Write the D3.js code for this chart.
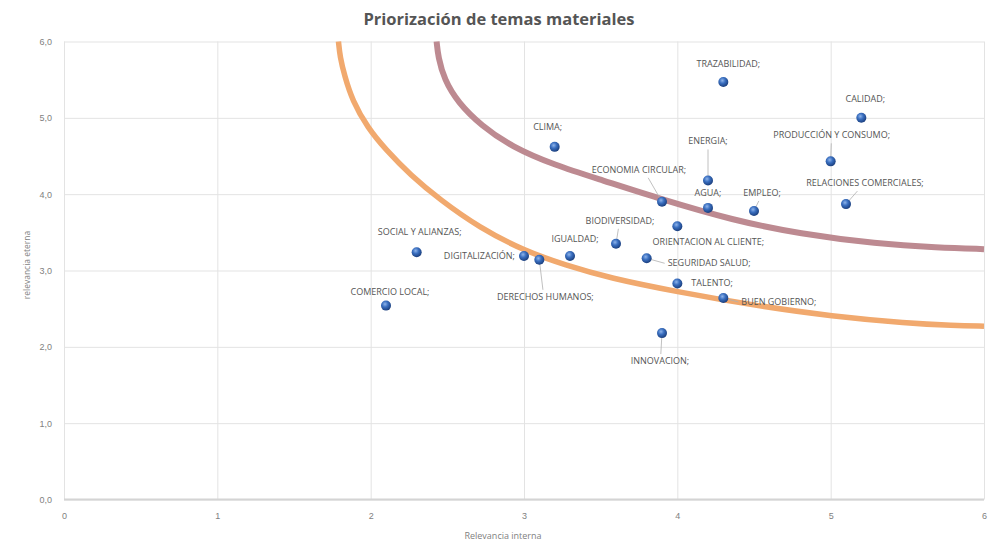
<!DOCTYPE html>
<html>
<head>
<meta charset="utf-8">
<script src="https://cdn.jsdelivr.net/npm/d3@7"></script>
<style>
  body { margin: 0; background: #fff; }
  svg { font-family: "Open Sans", sans-serif; }
</style>
</head>
<body>
<svg id="chart"></svg>
<script>
var w = 997;
var h = 548;

// data
var topics = ['TRAZABILIDAD;', 'CALIDAD;', 'CLIMA;', 'ENERGIA;', 'PRODUCCIÓN Y CONSUMO;',
  'ECONOMIA CIRCULAR;', 'AGUA;', 'EMPLEO;', 'RELACIONES COMERCIALES;', 'BIODIVERSIDAD;',
  'IGUALDAD;', 'ORIENTACION AL CLIENTE;', 'SEGURIDAD SALUD;', 'TALENTO;', 'BUEN GOBIERNO;',
  'INNOVACION;', 'SOCIAL Y ALIANZAS;', 'DIGITALIZACIÓN;', 'DERECHOS HUMANOS;', 'COMERCIO LOCAL;'];
var internal = [4.3, 5.2, 3.2, 4.2, 5.0, 3.9, 4.2, 4.5, 5.1, 3.6, 3.3, 4.0, 3.8, 4.0, 4.3, 3.9, 2.3, 3.0, 3.1, 2.1];
var external = [5.47, 5.0, 4.62, 4.18, 4.43, 3.9, 3.82, 3.78, 3.87, 3.35, 3.19, 3.58, 3.16, 2.83, 2.64, 2.18, 3.24, 3.19, 3.14, 2.54];

var xTicks = [0, 1, 2, 3, 4, 5, 6];
var yTicks = [0, 1, 2, 3, 4, 5, 6];

// the two hand-drawn threshold arcs
var outerArc = [[2.43, 6.0], [2.44, 5.8], [2.48, 5.5], [2.57, 5.2], [2.72, 4.9], [2.92, 4.62],
  [3.20, 4.38], [3.50, 4.19], [3.90, 3.93], [4.36, 3.66], [4.80, 3.48], [5.3, 3.35], [5.7, 3.3], [6.0, 3.28]];
var innerArc = [[1.79, 6.0], [1.80, 5.8], [1.83, 5.55], [1.88, 5.23], [1.98, 4.87], [2.10, 4.58], [2.26, 4.25],
  [2.45, 3.93], [2.71, 3.56], [3.0, 3.26], [3.27, 3.07], [3.56, 2.90], [4.0, 2.72], [4.51, 2.54],
  [5.01, 2.40], [5.5, 2.31], [5.8, 2.28], [6.0, 2.27]];

// label placement: dx, dy, anchor, leader line
var labelPos = [
  [5, -15, 'middle', false], [4, -16, 'middle', false], [-7, -17, 'middle', false],
  [0, -36, 'middle', true], [1, -23, 'middle', true], [-23, -29, 'middle', true],
  [0, -12, 'middle', false], [8, -15, 'middle', true], [19, -18, 'middle', true],
  [4, -20, 'middle', true], [5, -14, 'middle', false], [31, 19, 'middle', false],
  [21, 8, 'start', true], [14, 3, 'start', false], [18, 7, 'start', true],
  [-2, 31, 'middle', true], [3, -17, 'middle', false], [-9, 3, 'end', false],
  [6, 40, 'middle', true], [4, -11, 'middle', false]
];

var points = topics.map(function (t, i) {
  return {name: t, x: internal[i], y: external[i], pos: labelPos[i]};
});

var svg = d3.select('#chart').attr('width', w).attr('height', h);

var x = d3.scaleLinear().domain([0, 6]).range([64, 984]);
var y = d3.scaleLinear().domain([0, 6]).range([499.5, 41.5]);

// gradient for the ball markers
var grad = svg.append('defs').append('radialGradient')
  .attr('id', 'ball').attr('cx', '40%').attr('cy', '35%').attr('r', '65%');
grad.append('stop').attr('offset', '0%').attr('stop-color', '#8fb4ea');
grad.append('stop').attr('offset', '45%').attr('stop-color', '#3a6fc0');
grad.append('stop').attr('offset', '100%').attr('stop-color', '#1b3f7e');

// grid
svg.append('g')
  .attr('transform', 'translate(0,' + y(0) + ')')
  .call(d3.axisBottom(x).tickValues(xTicks).tickSize(y(6) - y(0)).tickFormat(''))
  .call(function (g) { g.select('.domain').remove(); })
  .selectAll('line').attr('stroke', '#e3e3e3');

svg.append('g')
  .attr('transform', 'translate(' + x(0) + ',0)')
  .call(d3.axisLeft(y).tickValues(yTicks).tickSize(x(0) - x(6)).tickFormat(''))
  .call(function (g) { g.select('.domain').remove(); })
  .selectAll('line').attr('stroke', '#e3e3e3');

svg.append('line')
  .attr('x1', x(0)).attr('x2', x(6)).attr('y1', y(0)).attr('y2', y(0))
  .attr('stroke', '#d4d4d4').attr('stroke-width', 2);

// tick labels
var yAxis = svg.append('g')
  .attr('transform', 'translate(' + (x(0) - 9) + ',0)')
  .call(d3.axisLeft(y).tickValues(yTicks).tickSize(0)
    .tickFormat(function (d) { return d3.format('.1f')(d).replace('.', ','); }));
yAxis.select('.domain').remove();
yAxis.selectAll('text').attr('fill', '#7f7f7f').attr('font-size', '9px');

var xAxis = svg.append('g')
  .attr('transform', 'translate(0,' + (y(0) + 10) + ')')
  .call(d3.axisBottom(x).tickValues(xTicks).tickSize(0).tickFormat(d3.format('d')));
xAxis.select('.domain').remove();
xAxis.selectAll('text').attr('fill', '#7f7f7f').attr('font-size', '9px');

// arcs
var line = d3.line()
  .x(function (d) { return x(d[0]); })
  .y(function (d) { return y(d[1]); })
  .curve(d3.curveBasis);

svg.append('path').datum(innerArc)
  .attr('d', line).attr('fill', 'none')
  .attr('stroke', '#f1a96e').attr('stroke-width', 5.5);

svg.append('path').datum(outerArc)
  .attr('d', line).attr('fill', 'none')
  .attr('stroke', '#bd8a91').attr('stroke-width', 6);

// leader lines
svg.selectAll('line.leader')
  .data(points.filter(function (d) { return d.pos[3]; }))
  .enter()
  .append('line')
  .attr('class', 'leader')
  .attr('x1', function (d) { return x(d.x); })
  .attr('y1', function (d) { return y(d.y); })
  .attr('x2', function (d) {
    if (d.pos[2] === 'start') return x(d.x) + d.pos[0] - 3;
    return x(d.x) + d.pos[0] * 0.6;
  })
  .attr('y2', function (d) {
    if (d.pos[2] === 'start') return y(d.y) + d.pos[1] - 3;
    return d.pos[1] < 0 ? y(d.y) + d.pos[1] + 5 : y(d.y) + d.pos[1] - 10;
  })
  .attr('stroke', '#b0b0b0').attr('stroke-width', 0.8);

// markers
svg.selectAll('circle.pt')
  .data(points)
  .enter()
  .append('circle')
  .attr('class', 'pt')
  .attr('cx', function (d) { return x(d.x); })
  .attr('cy', function (d) { return y(d.y); })
  .attr('r', 5)
  .attr('fill', 'url(#ball)');

// labels
svg.selectAll('text.lbl')
  .data(points)
  .enter()
  .append('text')
  .attr('class', 'lbl')
  .text(function (d) { return d.name; })
  .attr('x', function (d) { return x(d.x) + d.pos[0]; })
  .attr('y', function (d) { return y(d.y) + d.pos[1]; })
  .attr('text-anchor', function (d) { return d.pos[2]; })
  .attr('font-size', '9px')
  .attr('fill', '#555');

// titles
svg.append('text')
  .text('Priorización de temas materiales')
  .attr('x', 499).attr('y', 25)
  .attr('text-anchor', 'middle')
  .attr('font-size', '16.5px').attr('font-weight', 'bold')
  .attr('fill', '#555');

svg.append('text')
  .text('Relevancia interna')
  .attr('x', 503).attr('y', 539)
  .attr('text-anchor', 'middle')
  .attr('font-size', '9px').attr('fill', '#7f7f7f');

svg.append('text')
  .text('relevancia eterna')
  .attr('transform', 'translate(30,265) rotate(-90)')
  .attr('text-anchor', 'middle')
  .attr('font-size', '8.5px').attr('fill', '#7f7f7f');
</script>
</body>
</html>
